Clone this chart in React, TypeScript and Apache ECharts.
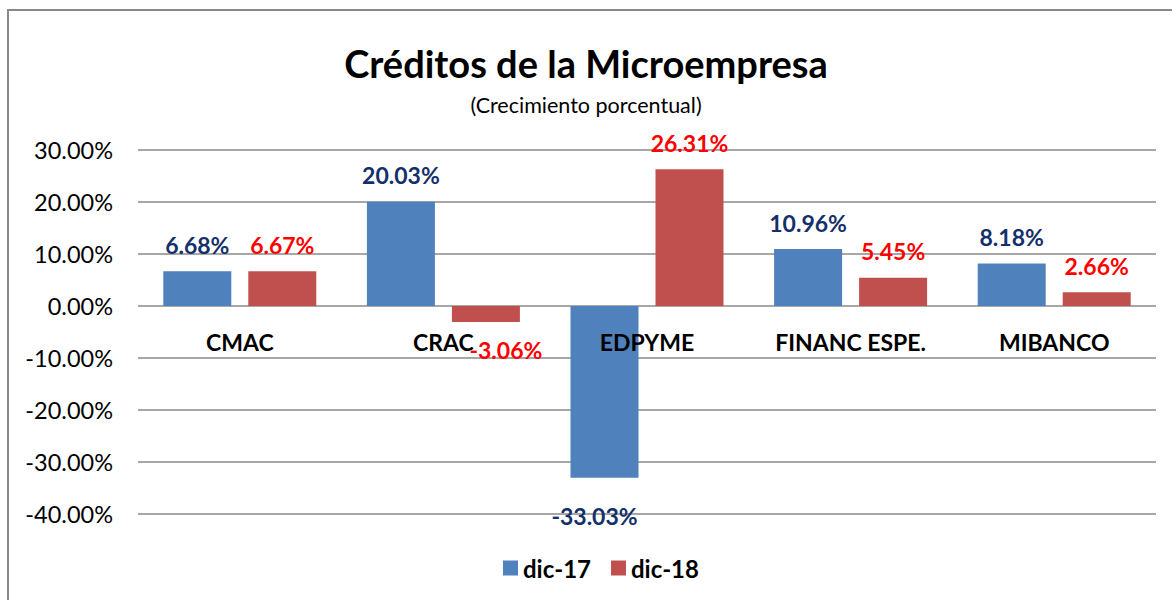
import React, { useEffect, useRef } from "react";
import * as echarts from "echarts";

const categories = ["CMAC", "CRAC", "EDPYME", "FINANC ESPE.", "MIBANCO"];
const seriesNames = ["dic-17", "dic-18"];
const dic17 = [6.68, 20.03, -33.03, 10.96, 8.18];
const dic18 = [6.67, -3.06, 26.31, 5.45, 2.66];
const yTicks = { min: -40, max: 30, interval: 10 };

const FONT = "Lato";
const GRID = { left: 138, right: 16, top: 150, bottom: 86 };
const CHART_H = 600;

export default function App() {
  const ref = useRef<HTMLDivElement>(null);
  useEffect(() => {
    if (!ref.current) return;
    const chart = echarts.init(ref.current, undefined, { renderer: "svg" });

    const plotH = CHART_H - GRID.top - GRID.bottom;
    // move category axis up to the zero line
    const zeroOffset = -((0 - yTicks.min) / (yTicks.max - yTicks.min)) * plotH;

    const mkData = (vals: number[], seriesIdx: number) =>
      vals.map((v, i) => {
        const neg = v < 0;
        const label: any = { position: neg ? "bottom" : "top", distance: 15 };
        if (neg && seriesIdx === 1 && i === 1) {
          label.distance = 17;
          label.offset = [20, 0];
        }
        if (neg && seriesIdx === 0 && i === 2) {
          label.distance = 27;
          label.offset = [-10, 0];
        }
        return { value: v, label };
      });

    const option: any = {
      animation: false,
      backgroundColor: "#ffffff",
      title: [
        {
          text: "Créditos de la Microempresa",
          left: "center",
          top: 39,
          textStyle: { fontFamily: FONT, fontWeight: "bold", fontSize: 38, color: "#000" },
        },
        {
          text: "(Crecimiento porcentual)",
          left: "center",
          top: 89,
          textStyle: { fontFamily: FONT, fontWeight: "normal", fontSize: 21.5, color: "#000" },
        },
      ],
      graphic: [
        {
          type: "rect",
          silent: true,
          shape: { x: 8, y: 10, width: 1200, height: 700 },
          style: { fill: "none", stroke: "#898989", lineWidth: 2 },
        },
      ],
      legend: {
        data: seriesNames,
        left: 503,
        top: 556,
        padding: 0,
        itemWidth: 15,
        itemHeight: 15,
        itemGap: 20,
        icon: "rect",
        textStyle: { fontFamily: FONT, fontWeight: "bold", fontSize: 24, color: "#000" },
      },
      grid: { ...GRID, containLabel: false },
      xAxis: {
        type: "category",
        data: categories,
        position: "bottom",
        offset: zeroOffset,
        z: 10,
        axisLine: { show: false, onZero: false },
        axisTick: { show: false },
        axisLabel: {
          margin: 24,
          fontFamily: FONT,
          fontWeight: "bold",
          fontSize: 23,
          color: "#000",
        },
        splitLine: { show: false },
      },
      yAxis: {
        type: "value",
        min: yTicks.min,
        max: yTicks.max,
        interval: yTicks.interval,
        axisLine: { show: false },
        axisTick: { show: false },
        axisLabel: {
          margin: 25,
          fontFamily: FONT,
          fontSize: 23.5,
          color: "#000",
          formatter: (v: number) => v.toFixed(2) + "%",
        },
        splitLine: { lineStyle: { color: "#8a8a8a", width: 1.5 } },
      },
      series: [
        {
          name: seriesNames[0],
          type: "bar",
          data: mkData(dic17, 0),
          barWidth: 68,
          barGap: "25%",
          itemStyle: { color: "#4F81BD" },
          label: {
            show: true,
            fontFamily: FONT,
            fontWeight: "bold",
            fontSize: 23,
            color: "#14306B",
            formatter: (p: any) => p.value.toFixed(2) + "%",
          },
        },
        {
          name: seriesNames[1],
          type: "bar",
          data: mkData(dic18, 1),
          barWidth: 68,
          barGap: "25%",
          itemStyle: { color: "#C0504D" },
          label: {
            show: true,
            fontFamily: FONT,
            fontWeight: "bold",
            fontSize: 23,
            color: "#FF0000",
            formatter: (p: any) => p.value.toFixed(2) + "%",
          },
        },
      ],
    };
    chart.setOption(option);
    return () => chart.dispose();
  }, []);
  return (
    <div
      ref={ref}
      style={{ position: "absolute", left: 0, top: 0, width: 1172, height: CHART_H }}
    />
  );
}
